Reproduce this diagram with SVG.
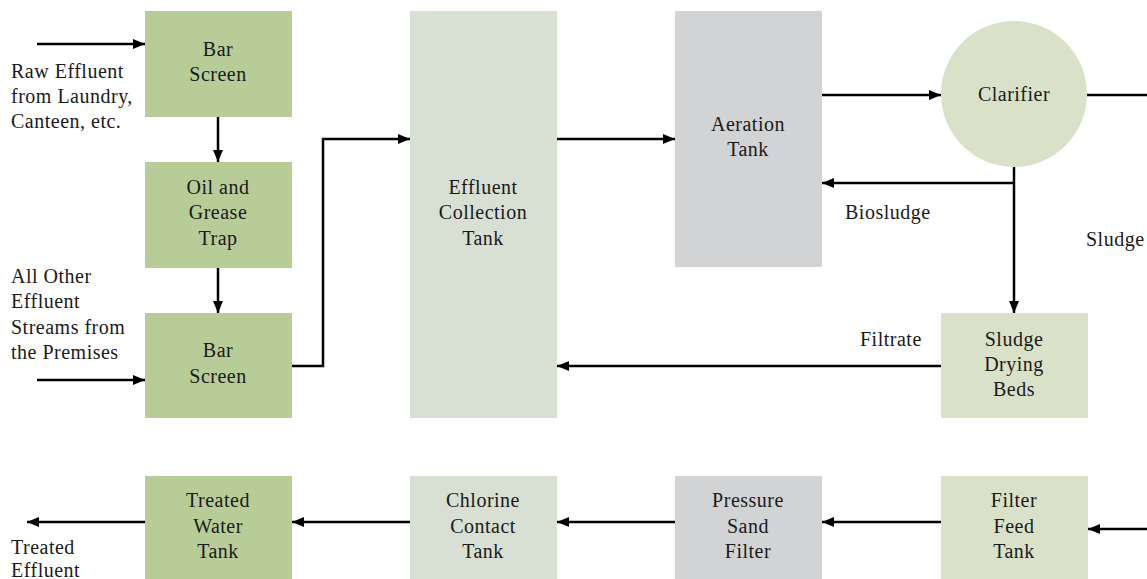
<svg xmlns="http://www.w3.org/2000/svg" width="1147" height="579" viewBox="0 0 1147 579">
  <defs>
    <marker id="arrow" markerWidth="12" markerHeight="10" refX="12" refY="5" orient="auto" markerUnits="userSpaceOnUse">
      <path d="M0,0 L12,5 L0,10 Z" fill="#000"/>
    </marker>
    <style>
      .t { font-family: 'Liberation Serif', 'Times New Roman', serif; font-size: 20px; letter-spacing: 0.5px; fill: #1a1a1a; }
      .c { text-anchor: middle; }
      .g1 { fill: #b8cc98; }
      .g2 { fill: #d9e2c8; }
      .g3 { fill: #d8dfd3; }
      .g4 { fill: #d1d3d4; }
      .ln { fill: none; stroke: #000; stroke-width: 2.5; }
      .ar { marker-end: url(#arrow); }
    </style>
  </defs>
  <rect width="1147" height="579" fill="#fff"/>

  <g class="t">
  <!-- process units -->
  <g id="bar-screen-1">
    <rect class="g1" x="145" y="11" width="147" height="106"/>
    <text class="c" x="218" y="56">Bar</text>
    <text class="c" x="218" y="81">Screen</text>
  </g>
  <g id="oil-grease-trap">
    <rect class="g1" x="145" y="162" width="147" height="106"/>
    <text class="c" x="218" y="194">Oil and</text>
    <text class="c" x="218" y="219">Grease</text>
    <text class="c" x="218" y="245">Trap</text>
  </g>
  <g id="bar-screen-2">
    <rect class="g1" x="145" y="313" width="147" height="105"/>
    <text class="c" x="218" y="357">Bar</text>
    <text class="c" x="218" y="383">Screen</text>
  </g>
  <g id="effluent-collection-tank">
    <rect class="g3" x="410" y="11" width="147" height="407"/>
    <text class="c" x="483" y="194">Effluent</text>
    <text class="c" x="483" y="219">Collection</text>
    <text class="c" x="483" y="245">Tank</text>
  </g>
  <g id="aeration-tank">
    <rect class="g4" x="675" y="11" width="147" height="256"/>
    <text class="c" x="748" y="131">Aeration</text>
    <text class="c" x="748" y="156">Tank</text>
  </g>
  <g id="clarifier">
    <circle class="g2" cx="1014" cy="94" r="73"/>
    <text class="c" x="1014" y="101">Clarifier</text>
  </g>
  <g id="sludge-drying-beds">
    <rect class="g2" x="941" y="313" width="147" height="105"/>
    <text class="c" x="1014" y="346">Sludge</text>
    <text class="c" x="1014" y="371">Drying</text>
    <text class="c" x="1014" y="396">Beds</text>
  </g>
  <g id="filter-feed-tank">
    <rect class="g2" x="941" y="476" width="147" height="103"/>
    <text class="c" x="1014" y="507">Filter</text>
    <text class="c" x="1014" y="533">Feed</text>
    <text class="c" x="1014" y="558">Tank</text>
  </g>
  <g id="pressure-sand-filter">
    <rect class="g4" x="675" y="476" width="147" height="103"/>
    <text class="c" x="748" y="507">Pressure</text>
    <text class="c" x="748" y="533">Sand</text>
    <text class="c" x="748" y="558">Filter</text>
  </g>
  <g id="chlorine-contact-tank">
    <rect class="g3" x="410" y="476" width="147" height="103"/>
    <text class="c" x="483" y="507">Chlorine</text>
    <text class="c" x="483" y="533">Contact</text>
    <text class="c" x="483" y="558">Tank</text>
  </g>
  <g id="treated-water-tank">
    <rect class="g1" x="145" y="476" width="147" height="103"/>
    <text class="c" x="218" y="507">Treated</text>
    <text class="c" x="218" y="533">Water</text>
    <text class="c" x="218" y="558">Tank</text>
  </g>

  <!-- stream labels -->
  <g id="labels">
    <text x="11" y="78">Raw Effluent</text>
    <text x="11" y="103">from Laundry,</text>
    <text x="11" y="128">Canteen, etc.</text>
    <text x="11" y="283">All Other</text>
    <text x="11" y="308">Effluent</text>
    <text x="11" y="334">Streams from</text>
    <text x="11" y="359">the Premises</text>
    <text x="845" y="219">Biosludge</text>
    <text x="1086" y="246">Sludge</text>
    <text x="860" y="346">Filtrate</text>
    <text x="11" y="554">Treated</text>
    <text x="11" y="577">Effluent</text>
  </g>
  </g>

  <!-- flow lines -->
  <g id="connectors">
    <path class="ln ar" d="M37,44 H145"/>
    <path class="ln ar" d="M218,117 V162"/>
    <path class="ln ar" d="M218,268 V313"/>
    <path class="ln ar" d="M37,380 H145"/>
    <path class="ln ar" d="M292,366 H323 V139 H410"/>
    <path class="ln ar" d="M557,139 H675"/>
    <path class="ln ar" d="M822,95 H941"/>
    <path class="ln" d="M1087,95 H1147"/>
    <path class="ln ar" d="M1014,167 V313"/>
    <path class="ln ar" d="M1014,183 H822"/>
    <path class="ln ar" d="M941,366 H557"/>
    <path class="ln ar" d="M1147,529 H1088"/>
    <path class="ln ar" d="M941,522 H822"/>
    <path class="ln ar" d="M675,522 H557"/>
    <path class="ln ar" d="M410,522 H292"/>
    <path class="ln ar" d="M145,522 H27"/>
  </g>
</svg>
